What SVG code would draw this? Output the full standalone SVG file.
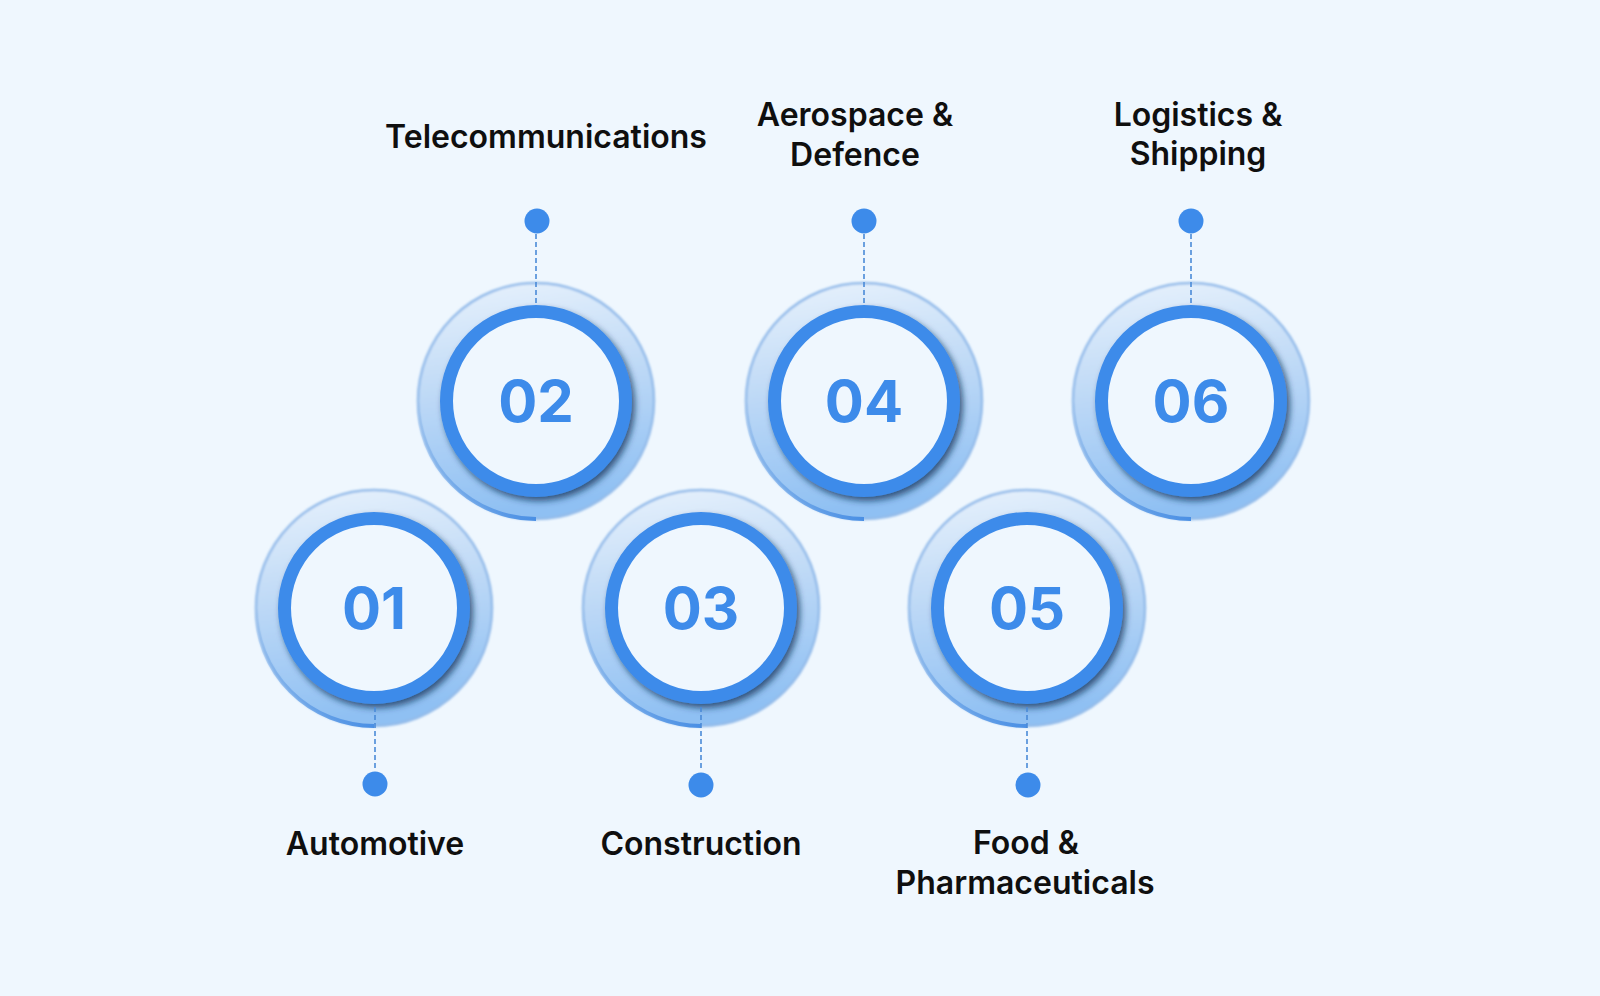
<svg xmlns="http://www.w3.org/2000/svg" width="1600" height="996" viewBox="0 0 1600 996">
<defs>
<linearGradient id="halo" x1="0" y1="0" x2="0.15" y2="1">
<stop offset="0" stop-color="#e9f2fc"/>
<stop offset="0.5" stop-color="#bcd8f6"/>
<stop offset="1" stop-color="#8fc0f3"/>
</linearGradient>
<linearGradient id="arcg" x1="0" y1="0" x2="1" y2="1">
<stop offset="0" stop-color="#5c9be6" stop-opacity="0"/>
<stop offset="0.6" stop-color="#5c9be6" stop-opacity="0.7"/>
<stop offset="1" stop-color="#4a8fe4" stop-opacity="1"/>
</linearGradient>
<filter id="soft" x="-10%" y="-10%" width="120%" height="120%">
<feGaussianBlur stdDeviation="1.2"/>
</filter>
<filter id="shadow" x="-20%" y="-20%" width="140%" height="140%">
<feDropShadow dx="3" dy="4" stdDeviation="3" flood-color="#15325a" flood-opacity="0.75"/>
</filter>
<style>
.bg{fill:#eff7fe}
.halo{fill:url(#halo);stroke:#94bcea;stroke-width:2.5}
.arc{fill:none;stroke:url(#arcg);stroke-width:4}
.ring{fill:#eff7fe;stroke:#3d8bea;stroke-width:13}
.num{font-family:Inter,"Liberation Sans",sans-serif;font-weight:700;font-size:58px;fill:#3d8bea;text-anchor:middle}
.lbl{font-family:Inter,"Liberation Sans",sans-serif;font-weight:600;font-size:32px;fill:#0f0f0f;text-anchor:middle}
.dash{stroke:#4a8ad8;stroke-width:1.6;stroke-dasharray:5 3;fill:none}
.dot{fill:#3d8bea}
</style>
</defs>
<rect class="bg" x="0" y="0" width="1600" height="996"/>

<g id="node-01">
<circle class="halo" cx="374" cy="608" r="118" filter="url(#soft)"/>
<path class="arc" d="M256 608 A118 118 0 0 0 374 726"/>
<circle class="ring" cx="374" cy="608" r="89.5" filter="url(#shadow)"/>
<text class="num" x="374" y="629">01</text>
<circle class="dot" cx="375" cy="784" r="12.5"/>
<text class="lbl" x="375" y="855">Automotive</text>
</g>

<g id="node-02">
<circle class="halo" cx="536" cy="401" r="118" filter="url(#soft)"/>
<path class="arc" d="M418 401 A118 118 0 0 0 536 519"/>
<circle class="ring" cx="536" cy="401" r="89.5" filter="url(#shadow)"/>
<text class="num" x="536" y="422">02</text>
<circle class="dot" cx="537" cy="221" r="12.5"/>
<text class="lbl" x="546" y="148">Telecommunications</text>
</g>

<g id="node-03">
<circle class="halo" cx="701" cy="608" r="118" filter="url(#soft)"/>
<path class="arc" d="M583 608 A118 118 0 0 0 701 726"/>
<circle class="ring" cx="701" cy="608" r="89.5" filter="url(#shadow)"/>
<text class="num" x="701" y="629">03</text>
<circle class="dot" cx="701" cy="785" r="12.5"/>
<text class="lbl" x="701" y="855">Construction</text>
</g>

<g id="node-04">
<circle class="halo" cx="864" cy="401" r="118" filter="url(#soft)"/>
<path class="arc" d="M746 401 A118 118 0 0 0 864 519"/>
<circle class="ring" cx="864" cy="401" r="89.5" filter="url(#shadow)"/>
<text class="num" x="864" y="422">04</text>
<circle class="dot" cx="864" cy="221" r="12.5"/>
<text class="lbl" x="855" y="126">Aerospace &amp;</text>
<text class="lbl" x="855" y="166">Defence</text>
</g>

<g id="node-05">
<circle class="halo" cx="1027" cy="608" r="118" filter="url(#soft)"/>
<path class="arc" d="M909 608 A118 118 0 0 0 1027 726"/>
<circle class="ring" cx="1027" cy="608" r="89.5" filter="url(#shadow)"/>
<text class="num" x="1027" y="629">05</text>
<circle class="dot" cx="1028" cy="785" r="12.5"/>
<text class="lbl" x="1026" y="854">Food &amp;</text>
<text class="lbl" x="1025" y="894">Pharmaceuticals</text>
</g>

<g id="node-06">
<circle class="halo" cx="1191" cy="401" r="118" filter="url(#soft)"/>
<path class="arc" d="M1073 401 A118 118 0 0 0 1191 519"/>
<circle class="ring" cx="1191" cy="401" r="89.5" filter="url(#shadow)"/>
<text class="num" x="1191" y="422">06</text>
<circle class="dot" cx="1191" cy="221" r="12.5"/>
<text class="lbl" x="1198" y="126">Logistics &amp;</text>
<text class="lbl" x="1198" y="165">Shipping</text>
</g>

<g id="connectors">
<line class="dash" x1="536" y1="234" x2="536" y2="303"/>
<line class="dash" x1="864" y1="234" x2="864" y2="303"/>
<line class="dash" x1="1191" y1="234" x2="1191" y2="303"/>
<line class="dash" x1="375" y1="707" x2="375" y2="771"/>
<line class="dash" x1="701" y1="707" x2="701" y2="771"/>
<line class="dash" x1="1027" y1="707" x2="1027" y2="771"/>
</g>
</svg>
